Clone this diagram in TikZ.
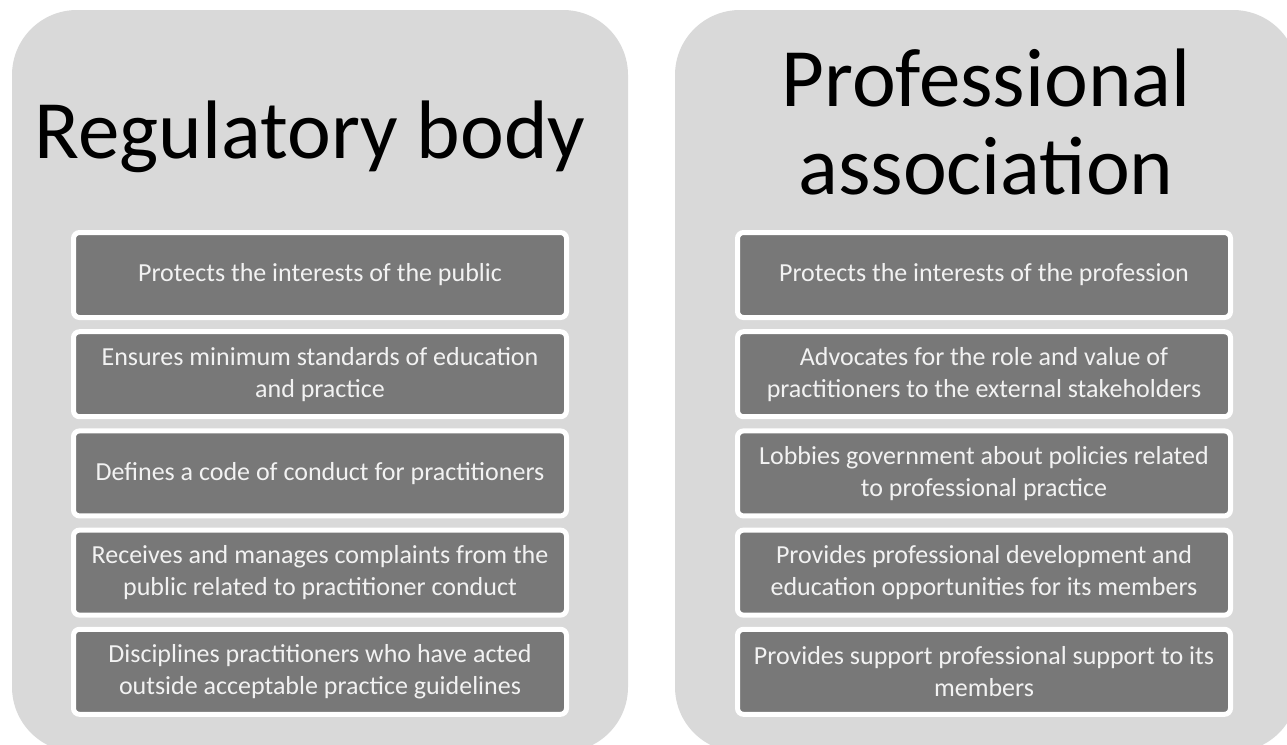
\documentclass[tikz,border=0pt]{standalone}
\usepackage{fontspec}
\setmainfont{Carlito}
\definecolor{panelgray}{HTML}{D9D9D9}
\definecolor{boxgray}{HTML}{787878}
\definecolor{boxtext}{HTML}{F2F2F2}
\tikzset{
    title/.style={font=\fontsize{83}{88}\selectfont, text=black, align=center, inner sep=0pt},
    item/.style={fill=boxgray, draw=white, line width=5pt, rounded corners=6pt,
        minimum width=493pt, minimum height=85pt, inner sep=0pt,
        text=boxtext, align=center, font=\fontsize{26}{32}\selectfont}
}
\begin{document}
\begin{tikzpicture}[x=1pt, y=-1pt]
    \useasboundingbox (0,0) rectangle (1287,744);
    \clip (0,0) rectangle (1287,744);

    % Panels
    \fill[panelgray, rounded corners=65pt] (12,10) rectangle (628,752);
    \fill[panelgray, rounded corners=65pt] (675,10) rectangle (1298,752);

    % Titles
    \node[title, anchor=base] (reg) at (310,158) {Regulatory body};
    \node[title, anchor=base] (prof) at (986,194) {Professional\\association};

    % Regulatory body boxes
    \foreach \txt [count=\i from 0] in {
        {Protects the interests of the public},
        {Ensures minimum standards of education\\and practice},
        {Defines a code of conduct for practitioners},
        {Receives and manages complaints from the\\public related to practitioner conduct},
        {Disciplines practitioners who have acted\\outside acceptable practice guidelines}} {
        \node[item] (reg\i) at (320, 275+99.2*\i) {\txt};
    }

    % Professional association boxes
    \foreach \txt [count=\i from 0] in {
        {Protects the interests of the profession},
        {Advocates for the role and value of\\practitioners to the external stakeholders},
        {Lobbies government about policies related\\to professional practice},
        {Provides professional development and\\education opportunities for its members},
        {Provides support professional support to its\\members}} {
        \node[item] (prof\i) at (984, 275+99.2*\i) {\txt};
    }
\end{tikzpicture}
\end{document}
